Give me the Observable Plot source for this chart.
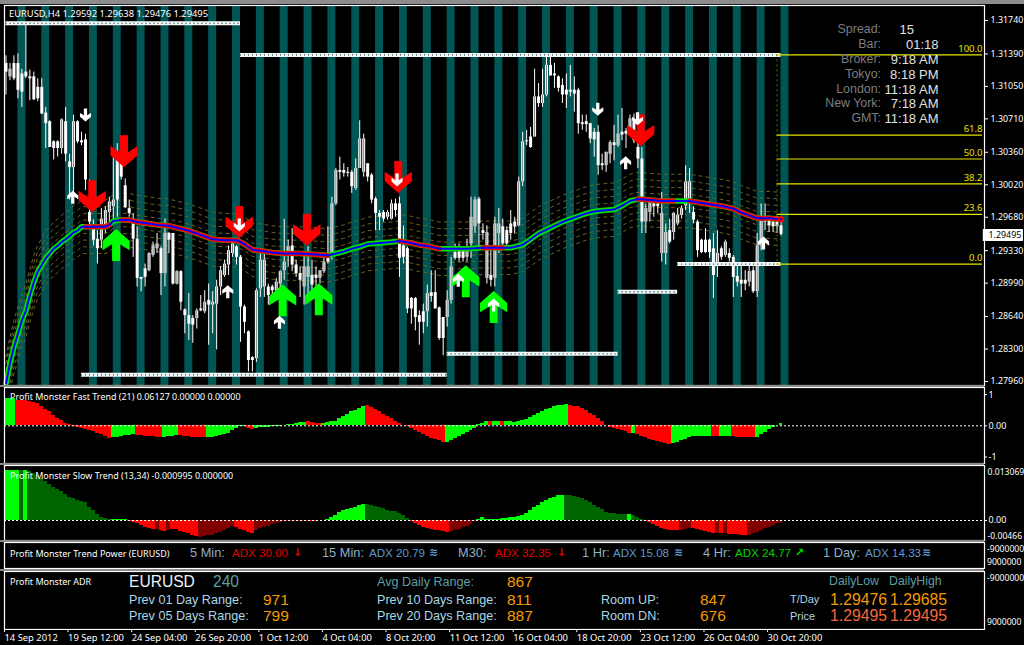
<!DOCTYPE html>
<html><head><meta charset="utf-8">
<script src="https://cdn.jsdelivr.net/npm/d3@7"></script>
<script src="https://cdn.jsdelivr.net/npm/@observablehq/plot@0.6"></script>
<style>
html,body{margin:0;padding:0;background:#000;overflow:hidden}
#page{position:relative;width:1024px;height:645px;background:#000;overflow:hidden}
#page svg{position:absolute;left:0;background:transparent;max-width:none}
.t{position:absolute;white-space:nowrap;line-height:1;transform:translateY(-50%);font-family:"Liberation Sans",Arial,sans-serif}
.s{font-family:"Noto Sans",sans-serif;color:#fff;font-size:9px}
.g{font-family:"DejaVu Sans",sans-serif;font-weight:bold}
.band{position:absolute;left:0;background:#8c8c8c}
</style></head><body><div id="page"></div>
<script>
// ---- price bars, in 1/10000 of a price unit ----
const high=[13137,13129,13137,13139,13123,13169,13122,13120,13113,13113,
13083,13069,13048,13048,13071,13083,13034,13075,13069,13057,
13055,13007,12965,12954,12977,12979,12989,13031,13045,13047,
13008,12986,12972,12958,12905,12919,12931,12942,12951,12937,
12966,12952,12951,12912,12912,12872,12888,12865,12872,12886,
12891,12898,12890,12902,12916,12923,12938,12944,12938,12928,
12876,12849,12822,12893,12930,12931,12898,12897,12904,12912,
12966,12944,12956,12923,12916,12930,12937,12923,12916,12912,
12926,12958,12989,13019,13031,13024,13020,13017,13029,13069,
13055,13024,13014,12989,12975,12975,12975,12986,12987,12989,
12959,12937,12884,12884,12870,12877,12897,12912,12912,12874,
12863,12891,12926,12940,12940,12935,12945,12989,12989,12989,
12961,12959,12937,12968,12977,12966,12958,12975,12968,13010,
13057,13059,13062,13123,13108,13123,13136,13136,13129,13116,
13113,13118,13127,13115,13103,13075,13075,13066,13061,13064,
13034,13036,13048,13064,13075,13082,13061,13075,13076,13059,
13041,12982,12986,12986,12986,12994,12961,12966,12973,12977,
12980,13022,13019,12979,12965,12945,12956,12945,12951,12954,
12937,12944,12935,12928,12919,12919,12912,12919,12916,12951,
12982,12982,12966,12966,12965,12964];
const low=[13096,13111,13111,13092,13083,13113,13090,13090,13089,13076,
13040,13041,13028,13031,13034,13026,12986,12989,13045,13043,
12996,12958,12938,12919,12935,12951,12963,12965,12968,13007,
12977,12968,12926,12895,12890,12895,12911,12926,12930,12886,
12895,12930,12897,12897,12870,12846,12839,12836,12851,12869,
12867,12834,12846,12829,12886,12905,12907,12926,12918,12837,
12846,12806,12806,12816,12884,12884,12876,12883,12884,12891,
12902,12916,12911,12905,12884,12876,12881,12888,12895,12898,
12909,12919,12923,12980,13007,13010,13010,12993,12996,13019,
13010,13005,12982,12954,12954,12963,12965,12965,12968,12905,
12919,12867,12856,12849,12834,12846,12853,12879,12872,12839,
12823,12853,12877,12923,12921,12921,12921,12925,12951,12937,
12944,12898,12895,12895,12930,12938,12937,12944,12951,12958,
13000,13043,13040,13052,13083,13083,13094,13116,13103,13099,
13087,13082,13094,13078,13055,13059,13057,13045,13031,13012,
13017,13015,13024,13027,13041,13048,13040,13057,13045,13019,
12951,12951,12963,12968,12972,12921,12918,12940,12944,12959,
12966,12975,12972,12961,12926,12930,12930,12925,12883,12905,
12923,12926,12921,12884,12895,12884,12891,12895,12888,12884,
12933,12954,12952,12952,12951,12948];
const bodyTop=[13129,13123,13129,13129,13118,13120,13115,13115,13104,13104,
13077,13068,13047,13047,13070,13068,13026,13068,13068,13048,
13049,12973,12958,12945,12966,12975,12984,12986,13031,13031,
13001,12977,12966,12945,12905,12914,12930,12938,12940,12935,
12951,12951,12951,12911,12911,12871,12865,12862,12870,12872,
12879,12881,12879,12895,12912,12919,12933,12940,12937,12926,
12874,12848,12821,12891,12923,12923,12895,12895,12900,12911,
12921,12937,12938,12918,12909,12916,12916,12907,12907,12912,
12921,12925,12982,13017,13017,13017,13015,13015,13019,13050,
13050,13024,13012,12987,12972,12973,12973,12982,12982,12982,
12938,12935,12883,12883,12865,12869,12888,12889,12889,12873,
12863,12881,12916,12931,12935,12933,12933,12968,12986,12987,
12954,12952,12907,12961,12961,12958,12954,12961,12963,13005,
13047,13048,13052,13094,13094,13096,13127,13127,13118,13115,
13106,13101,13101,13101,13101,13067,13068,13066,13057,13057,
13024,13036,13046,13046,13055,13057,13058,13071,13068,13041,
13029,12977,12984,12982,12982,12972,12952,12954,12972,12970,
12977,13005,13005,12973,12963,12944,12944,12944,12935,12930,
12935,12942,12930,12926,12906,12902,12902,12911,12912,12938,
12966,12966,12965,12963,12963,12959];
const bodyBottom=[13120,13115,13113,13101,13099,13115,13113,13091,13092,13076,
13066,13041,13040,13040,13040,13034,13020,13020,13047,13046,
13007,12963,12944,12935,12944,12958,12973,12979,12986,13010,
12978,12972,12945,12904,12903,12905,12912,12928,12935,12909,
12909,12944,12898,12898,12879,12865,12856,12855,12862,12870,
12869,12876,12876,12877,12895,12907,12918,12930,12926,12874,
12858,12818,12818,12820,12893,12895,12886,12891,12891,12898,
12912,12928,12918,12909,12902,12895,12905,12897,12904,12904,
12911,12921,12928,12982,13015,13014,13014,13000,12998,13019,
13015,13010,12986,12972,12968,12966,12968,12966,12975,12925,
12926,12872,12872,12863,12858,12858,12869,12885,12872,12841,
12841,12863,12881,12925,12925,12925,12926,12940,12958,12961,
12951,12904,12902,12904,12951,12940,12940,12951,12958,12959,
13005,13047,13041,13052,13087,13087,13096,13116,13116,13103,
13096,13096,13099,13097,13066,13065,13065,13050,13049,13022,
13022,13022,13034,13043,13043,13054,13055,13061,13048,13029,
12963,12963,12973,12979,12979,12930,12930,12942,12952,12961,
12970,12980,12984,12965,12933,12931,12931,12931,12907,12918,
12926,12928,12925,12905,12900,12898,12898,12900,12890,12890,
12938,12963,12959,12958,12958,12950];
const risingBars=[1,14,17,24,25,26,27,36,37,38,40,43,48,50,52,53,54,55,56,57,63,64,65,68,69,70,71,75,76,79,80,82,83,88,89,90,96,97,106,111,112,116,117,118,121,123,124,129,130,133,135,136,151,152,154,157,161,162,165,166,168,169,170,171,172,179,181,187,189,190];

// ---- moving average readings ----
const maBars=[0,1,2,3,4,5,6,7,8,9,10,11,12,13,14,15,16,17,18,19,20,22,25,26,27,29,31,33,35,38,41,43,45,48,50,52,55,58,60,62,64,67,70,74,78,81,83,85,87,89,91,94,97,99,102,104,106,109,112,116,120,125,127,130,132,134,136,138,140,142,144,146,148,150,153,155,157,159,162,165,168,172,175,178,181,183,185,187,189,192,195];
const maValues=[12794,12815,12832,12846,12860,12870,12886,12900,12911,12918,12925,12930,12935,12938,12942,12945,12948,12952,12954,12958,12958,12958,12958,12960,12964,12965,12965,12963,12962,12960,12959,12957,12955,12951,12948,12945,12944,12944,12940,12934,12933,12931,12930,12930,12929,12928,12930,12932,12935,12937,12940,12941,12942,12943,12941,12939,12938,12935,12935,12935,12936,12936,12936,12939,12945,12951,12955,12959,12963,12966,12969,12972,12974,12975,12976,12980,12985,12987,12986,12985,12985,12985,12983,12981,12979,12977,12973,12970,12967,12967,12966];
const maRedSpans=[[20,26],[29,81],[99,109],[120,125],[159,168],[172,195]];
const envelopeOffsets=[-28,-21,-14,-7,7,14,21,28];

// ---- teal session stripes, starting bar ----
const sessionStarts=[3,9,15,21,27,33,39,45,51,57,63,69,75,81,87,93,99,105,111,117,123,129,135,141,147,153,159,165,171,177,183,189,195];
const sessionBars=2;

// ---- support / resistance zones ----
const zoneFrom=[0,59,19,111,154,169];
const zoneTo=[59,195,111,154,169,195];
const zoneLevel=[13171,13138,12803,12825,12890,12919];

// ---- fibonacci retracement ----
const fibRatios=["100.0","61.8","50.0","38.2","23.6","0.0"];
const fibLevels=[13138,13054,13029,13003,12971,12919];
const fibStartBar=194, fibEndBar=245.7;

// ---- signal arrows ----
const bigDownBars=[29.7,21.7,58.7,75.7,98.7,159.7], bigDownLevels=[13037,12990,12963,12955,13010,13059];
const bigUpBars=[27.7,69.6,78.7,115.7,122.7], bigUpLevels=[12939,12881,12882,12901,12874];
const smallDownBars=[20,58.7,98.4,148.9,158.9], smallDownLevels=[13075,12960,13007,13081,13071];
const smallUpBars=[16.8,55.8,68.8,113.8,122.7,155.9,190.6], smallUpLevels=[12989,12890,12858,12902,12876,13025,12941];

// ---- fast trend histogram (readings, 94 = 1.00) ----
const fastTrend=[81,81,81,76,76,75,73,70,66,58,50,42,30,22,15,8,3,
-2,-5,-8,-11,-14,-18,-22,-27,-32,-39,-36,-34,-31,-29,-28,-27,
-29,-30,-31,-32,-33,-34,-35,-35,-33,-32,-30,-30,-32,-33,-34,-35,-36,-36,
-36,-35,-33,-30,-27,-22,-15,-8,-3,-1,-8,-10,-7,-5,-4,-4,-3,-2,-1,
1,3,5,7,9,11,12,10,8,6,8,10,12,14,22,28,35,42,47,52,58,
60,55,48,42,35,28,22,14,8,2,-3,-9,-15,-21,-27,-32,-37,-41,-44,-50,
-50,-43,-37,-32,-26,-20,-14,-8,4,8,12,12,12,12,12,12,12,
10,12,15,20,25,30,37,44,49,53,57,60,62,63,
60,59,57,52,46,38,32,22,12,2,-4,-8,-12,-15,-18,-22,-24,
-27,-31,-36,-40,-44,-48,-50,-52,-55,-52,-50,-45,-40,-36,-33,-32,-31,-31,-31,-31,-31,
-32,-32,-32,-33,-34,-35,-35,-35,-36,-34,-27,-20,-12,-5,2,6];
const fastGreenSpans=[[0,2],[27,32],[40,43],[51,60],[63,75],[80,90],[111,121],[123,124],[126,141],[158,158],[168,177],[180,182],[189,195]];
const fastUnit=94;

// ---- slow trend histogram (readings, 1 = 0.0000817) ----
const slowTrend=[150,150,150,150,150,150,148,142,135,125,116,108,100,93,87,78,70,65,60,57,54,40,30,18,10,6,3,
2,3,3,2,-2,-5,-10,-15,-20,-24,-27,-28,-30,-32,-30,-28,-28,-32,-36,-40,-45,-48,
-50,-48,-46,-44,-40,-36,-30,-24,-18,-22,-26,-30,-36,-38,
-30,-25,-20,-17,-13,-10,-6,-3,-3,-2,-3,-3,-2,-2,-3,-3,-1,0,
3,8,15,25,30,34,37,40,44,48,48,44,41,38,35,30,28,26,22,14,5,
-3,-9,-14,-20,-25,-27,-29,-31,-34,-36,-34,-30,-26,-22,-18,-12,-4,
2,8,4,2,2,3,5,7,8,8,12,16,22,30,38,46,53,60,66,70,74,75,
75,74,72,70,65,60,55,45,38,33,25,20,20,19,19,18,18,15,10,4,
-2,-6,-12,-18,-23,-27,-29,-30,-31,-30,-26,-23,-25,-28,-31,-34,-37,-38,-40,-40,-40,
-41,-42,-43,-44,-44,-44,-40,-35,-30,-25,-20,-15,-10,-8];
const slowSpans=[[0,3,"g"],[4,4,"G"],[5,5,"g"],[6,26,"G"],[27,30,"g"],[31,37,"r"],[38,38,"R"],[39,40,"r"],[41,41,"R"],[42,48,"r"],[49,57,"R"],[58,62,"r"],[63,76,"R"],[77,79,"r"],[80,80,"R"],[81,90,"g"],[91,101,"G"],[102,111,"r"],[112,118,"R"],[119,140,"g"],[141,156,"G"],[157,157,"g"],[158,160,"G"],[161,169,"r"],[170,172,"R"],[173,178,"r"],[179,179,"R"],[180,180,"r"],[181,181,"R"],[182,186,"r"],[187,195,"R"]];
const slowUnit=0.0000817;
const slowColors={g:"#00ff00",G:"#006400",r:"#ff0000",R:"#800000"};

// ---- axes ----
const priceTicks=[1.3174,1.3139,1.3105,1.3071,1.3036,1.3002,1.2968,1.2933,1.2899,1.2864,1.2830,1.2796];
const timeTickBars=[0,16,32,48,64,80,96,112,128,144,160,176,192];
const timeTickLabels=["14 Sep 2012","19 Sep 12:00","24 Sep 04:00","26 Sep 20:00","1 Oct 12:00","4 Oct 04:00","8 Oct 20:00","11 Oct 12:00","16 Oct 04:00","18 Oct 20:00","23 Oct 12:00","26 Oct 04:00","30 Oct 20:00"];
const lastPrice=1.29495;

// ---- text panels ----
const clockLabels=["Spread:","Bar:","Broker:","Tokyo:","London:","New York:","GMT:"];
const clockValues=["15","01:18","9:18 AM","8:18 PM","11:18 AM","7:18 AM","11:18 AM"];

const page=document.getElementById("page");
const P=v=>v/10000;
const fontSmall='"Noto Sans",sans-serif';
const xCfg={domain:[0,245.7],range:[5.5,982],axis:null};
const bars=d3.range(high.length).map(i=>({i,high:P(high[i]),low:P(low[i]),top:P(bodyTop[i]),bot:P(bodyBottom[i]),up:risingBars.includes(i)}));
const ma=maBars.map((b,k)=>({b,v:P(maValues[k])}));
const maRed=maRedSpans.flatMap(([a,c],s)=>ma.filter(d=>d.b>=a&&d.b<=c).map(d=>({...d,s})));
const env=envelopeOffsets.flatMap(o=>ma.map(d=>({b:d.b,v:d.v+P(o),o})));
const zones=zoneFrom.map((f,k)=>({f,t:zoneTo[k],y:P(zoneLevel[k])}));
const fibs=fibRatios.map((r,k)=>({r,y:P(fibLevels[k])}));
const pts=(b,l)=>b.map((x,k)=>({x,y:P(l[k])}));

function arrowSymbol(dir){return{draw(c,size){const r=Math.sqrt(size/Math.PI),s=(x,y)=>[x*r,dir*y*r];
 const pl=[[-.25,-1],[.25,-1],[.25,.05],[.85,-.33],[.85,.25],[0,1],[-.85,.25],[-.85,-.33],[-.25,.05]];
 pl.forEach((p,i)=>{const [a,b]=s(p[0],p[1]);i?c.lineTo(a,b):c.moveTo(a,b)});c.closePath();}}}
const down=arrowSymbol(1),up=arrowSymbol(-1);

function add(svg,top){svg.style.top=top+"px";page.appendChild(svg)}

// main price chart
add(Plot.plot({width:1024,height:388,marginTop:5,marginBottom:3,marginLeft:4,marginRight:40,
 x:xCfg,y:{domain:[1.3174,1.2796],range:[20,381],axis:null},
 style:{background:"transparent",fontFamily:fontSmall},
 marks:[
  Plot.rect(sessionStarts,{x1:d=>d,x2:d=>d+sessionBars,fill:"#005555"}),
  Plot.line(env,{x:"b",y:"v",z:"o",stroke:"#66662a",strokeWidth:1,strokeDasharray:"3,4"}),
  Plot.ruleX(bars,{x:"i",y1:"low",y2:"high",stroke:"#fff",strokeWidth:1}),
  Plot.ruleX(bars,{x:"i",y1:"bot",y2:"top",stroke:"#fff",strokeWidth:3}),
  Plot.ruleX(bars.filter(d=>d.up),{x:"i",y1:"bot",y2:"top",stroke:"#000",strokeWidth:1,strokeOpacity:.5}),
  Plot.ruleY(zones,{y:"y",x1:"f",x2:"t",stroke:"#f0f8f8",strokeWidth:4}),
  Plot.ruleY(zones,{y:"y",x1:"f",x2:"t",stroke:"#2a3a40",strokeWidth:1.3,strokeDasharray:"1,3"}),
  Plot.ruleX([fibStartBar],{y1:P(fibLevels[0]),y2:P(fibLevels[5]),stroke:"#00a000",strokeDasharray:"2,3"}),
  Plot.ruleY(fibs,{y:"y",x1:fibStartBar,x2:fibEndBar,stroke:"#e6e600",strokeWidth:1.2}),
  Plot.text(fibs,{x:fibEndBar,y:"y",text:"r",dy:-6,textAnchor:"end",fill:"#e6e600",fontSize:9.5}),
  Plot.line(ma,{x:"b",y:"v",stroke:"#00e000",strokeWidth:5.5}),
  Plot.line(maRed,{x:"b",y:"v",z:"s",stroke:"#ff0000",strokeWidth:5}),
  Plot.line(ma,{x:"b",y:"v",stroke:"#0000ff",strokeWidth:2}),
  Plot.dot(ma.slice(-1),{x:"b",y:"v",r:2.5,stroke:"#ff0000",strokeWidth:1.5}),
  Plot.dot(pts(bigDownBars,bigDownLevels),{x:"x",y:"y",r:16,symbol:down,fill:"#ff0000"}),
  Plot.dot(pts(bigUpBars,bigUpLevels),{x:"x",y:"y",r:16,symbol:up,fill:"#00ff00"}),
  Plot.dot(pts(smallDownBars,smallDownLevels),{x:"x",y:"y",r:6.5,symbol:down,fill:"#fff"}),
  Plot.dot(pts(smallUpBars,smallUpLevels),{x:"x",y:"y",r:6.5,symbol:up,fill:"#fff"}),
  Plot.frame({stroke:"#fff",strokeWidth:1.2}),
  Plot.axisY({anchor:"right",ticks:priceTicks,tickFormat:d3.format(".5f"),color:"#fff",tickSize:3,fontSize:8.9,label:null,tickPadding:3}),
  Plot.ruleY([lastPrice],{x1:245.9,x2:256,stroke:"#fff",strokeWidth:12}),
  Plot.text([lastPrice],{x:247.2,y:d=>d,text:d3.format(".5f"),textAnchor:"start",fill:"#000",fontSize:8.9})
 ]}),0);

// fast trend
const fastColor=i=>fastGreenSpans.some(([a,b])=>i>=a&&i<=b)?"#00ff00":"#ff0000";
add(Plot.plot({width:1024,height:78,marginTop:1,marginBottom:1,marginLeft:4,marginRight:40,
 x:xCfg,y:{domain:[-1.208,1.228],axis:null},style:{background:"transparent",fontFamily:fontSmall},
 marks:[
  Plot.rect(fastTrend,{x1:(d,i)=>i-.5,x2:(d,i)=>i+.5,y1:0,y2:d=>d/fastUnit,fill:(d,i)=>fastColor(i),shapeRendering:"crispEdges"}),
  Plot.ruleY([0],{stroke:"#fff",strokeDasharray:"2,2"}),
  Plot.frame({stroke:"#fff",strokeWidth:1.2}),
  Plot.axisY({anchor:"right",ticks:[1,0,-1],tickFormat:d=>d===0?"0.00":String(d),color:"#fff",tickSize:2,fontSize:9,label:null,tickPadding:2})
 ]}),386);

// slow trend
const slowColor=i=>slowColors[slowSpans.find(([a,b])=>i>=a&&i<=b)[2]];
add(Plot.plot({width:1024,height:77,marginTop:1,marginBottom:1,marginLeft:4,marginRight:40,
 x:xCfg,y:{domain:[-0.0049,0.01348],axis:null},style:{background:"transparent",fontFamily:fontSmall},
 marks:[
  Plot.rect(slowTrend,{x1:(d,i)=>i-.5,x2:(d,i)=>i+.5,y1:0,y2:d=>d*slowUnit,fill:(d,i)=>slowColor(i),shapeRendering:"crispEdges"}),
  Plot.ruleY([0],{stroke:"#fff",strokeDasharray:"2,2"}),
  Plot.frame({stroke:"#fff",strokeWidth:1.2}),
  Plot.axisY({anchor:"right",ticks:[0],tickFormat:()=>"0.00",color:"#fff",tickSize:2,fontSize:9,label:null,tickPadding:2}),
  Plot.text(["0.013069"],{frameAnchor:"top-right",dx:3,dy:3,textAnchor:"start",text:d=>d,fill:"#fff",fontSize:8.6,lineAnchor:"top"}),
  Plot.text(["-0.00466"],{frameAnchor:"bottom-right",dx:3,dy:-2,textAnchor:"start",text:d=>d,fill:"#fff",fontSize:8.6,lineAnchor:"bottom"})
 ]}),464);

// trend power frame
add(Plot.plot({width:1024,height:28,marginTop:1,marginBottom:1,marginLeft:4,marginRight:40,x:xCfg,y:{domain:[0,1],axis:null},
 style:{background:"transparent"},marks:[Plot.frame({stroke:"#fff",strokeWidth:1.2})]}),541);
// ADR frame
add(Plot.plot({width:1024,height:60,marginTop:1,marginBottom:1,marginLeft:4,marginRight:40,x:xCfg,y:{domain:[0,1],axis:null},
 style:{background:"transparent"},marks:[Plot.frame({stroke:"#fff",strokeWidth:1.2})]}),570);
// time axis
add(Plot.plot({width:1024,height:16,marginTop:0,marginBottom:16,marginLeft:4,marginRight:40,x:{domain:xCfg.domain,range:[5,981.5],axis:null},y:{domain:[0,1],axis:null},
 style:{background:"transparent",fontFamily:fontSmall},marks:[
  Plot.axisX({anchor:"bottom",ticks:timeTickBars,tickFormat:d=>timeTickLabels[timeTickBars.indexOf(d)],color:"#fff",tickSize:3,fontSize:9.4,textAnchor:"start",label:null,tickPadding:2,dx:-1})
 ]}),629);

// separators
[[0,4,1024],[385,2,984],[463,2,984],[540,2,984],[568.5,2,984]].forEach(([y,h,w])=>{
 const d=document.createElement("div");d.className="band";d.style.cssText=`top:${y}px;height:${h}px;width:${w}px`;page.appendChild(d)});

// html text
function T(x,y,s,color,size,opts={}){const d=document.createElement("div");d.className="t"+(opts.small?" s":"")+(opts.glyph?" g":"");d.textContent=s;
 d.style.top=y+"px";if(opts.right)d.style.right=(1024-x)+"px";else d.style.left=x+"px";
 if(color)d.style.color=color;if(size)d.style.fontSize=size+"px";page.appendChild(d)}
T(9,13.5,"EURUSD,H4  1.29592 1.29638 1.29476 1.29495","#fff",9.35,{small:1});
T(10,397,"Profit Monster Fast Trend (21) 0.06127 0.00000 0.00000","#fff",8.95,{small:1});
T(10,475.5,"Profit Monster Slow Trend (13,34) -0.000995 0.000000","#fff",8.95,{small:1});
T(10,552.5,"Profit Monster Trend Power (EURUSD)","#fff",9,{small:1});
T(10,581,"Profit Monster ADR","#fff",9,{small:1});

const clockY=[29,44,59,74,89,103,118];
clockLabels.forEach((s,k)=>{T(881,clockY[k],s,"#7d7d7d",12.4,{right:1});T(k?938.5:914,clockY[k],clockValues[k],"#e0e0e0",13,{right:1})});

const grey="#8fb0c4",blue="#5b9bd5",red="#e00000",green="#00d800",orange="#f59a00",coral="#f8683c",teal="#5f9ea0",pale="#add8e6";
[[190,"5 Min:",grey],[322,"15 Min:",grey],[458,"M30:",grey],[582,"1 Hr:",grey],[703,"4 Hr:",grey],[823,"1 Day:",grey]].forEach(([x,s,c])=>T(x,552.5,s,c,12.8));
[[232,"ADX 30.00",red],[369,"ADX 20.79",blue],[495,"ADX 32.35",red],[613,"ADX 15.08",blue],[735,"ADX 24.77",green],[865,"ADX 14.33",blue]].forEach(([x,s,c])=>T(x,552.5,s,c,11.6));
[[293,"\u2193",red],[429,"\u224B",blue],[557,"\u2193",red],[674,"\u224B",blue],[795,"\u2197",green],[922,"\u224B",blue]].forEach(([x,s,c])=>T(x,551.5,s,c,11,{glyph:1}));

[[129,582,"EURUSD","#e8f4f8",15.6],[213,582,"240",teal,15.6],
 [129,599.5,"Prev 01 Day Range:",pale,12.6],[263,599.5,"971",orange,15.5],
 [129,615.5,"Prev 05 Days Range:",pale,12.6],[263,615.5,"799",orange,15.5],
 [377,582,"Avg Daily Range:",teal,12.6],[507,582,"867",orange,15.5],
 [377,599.5,"Prev 10 Days Range:",pale,12.6],[507,599.5,"811",orange,15.5],
 [377,615.5,"Prev 20 Days Range:",pale,12.6],[507,615.5,"887",orange,15.5],
 [601,599.5,"Room UP:",pale,12.6],[700,599.5,"847",orange,15.5],
 [601,615.5,"Room DN:",pale,12.6],[700,615.5,"676",orange,15.5],
 [829,581,"DailyLow",teal,12.3],[889,581,"DailyHigh",teal,12.3],
 [790,599,"T/Day",pale,11],[830,599.5,"1.29476",orange,15.8],[890,599.5,"1.29685",orange,15.8],
 [790,616,"Price",pale,11],[830,615.5,"1.29495",coral,15.8],[890,615.5,"1.29495",coral,15.8]
].forEach(([x,y,s,c,z])=>T(x,y,s,c,z));

[[549,"-9000000"],[562,"9000000"],[578,"-9000000"],[622,"9000000"]].forEach(([y,s])=>T(987,y,s,"#fff",8.6,{small:1}));
</script></body></html>
